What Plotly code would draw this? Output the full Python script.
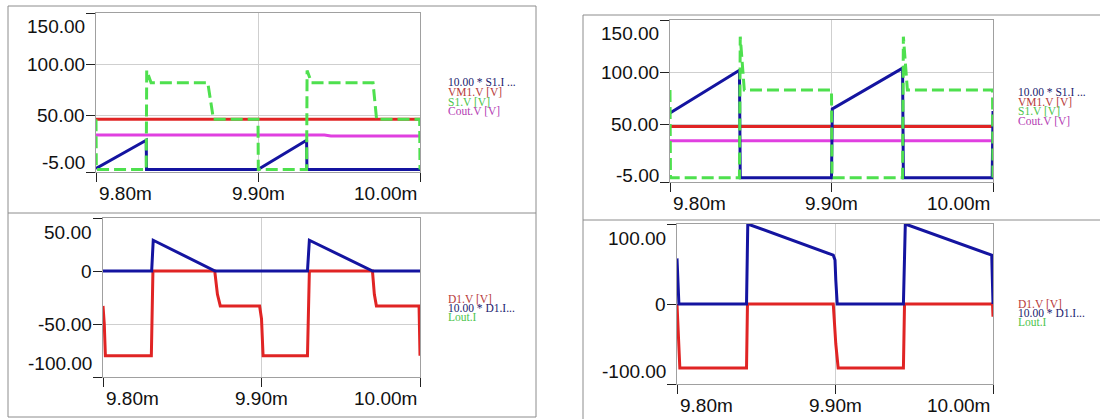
import plotly.graph_objects as go

W, H = 1100, 419

# ---------------- data (time in ms) ----------------
X_TICKS = [9.80, 9.90, 10.00]
X_TEXT = ["9.80m", "9.90m", "10.00m"]

# top-left panel
TL_Y_TICKS = [-5, 50, 100, 150]
TL_Y_TEXT = ["-5.00", "50.00", "100.00", "150.00"]
TL_S1I_T = [9.800, 9.831, 9.8312, 9.900, 9.930, 9.9302, 10.000]
TL_S1I_V = [-1.5, 26, -2.5, -2.5, 26, -2.5, -2.5]
TL_VM1_T = [9.800, 10.000]
TL_VM1_V = [46.5, 46.5]
TL_S1V_T = [9.800, 9.8002, 9.831, 9.8313, 9.834, 9.869, 9.8725, 9.900, 9.9002,
            9.930, 9.9303, 9.933, 9.971, 9.9732, 9.9998, 10.000]
TL_S1V_V = [46.5, -2.5, -2.5, 94, 82, 82, 46.5, 46.5, -2.5,
            -2.5, 94, 82, 82, 46.5, 46.5, -2.5]
TL_COUT_T = [9.800, 9.941, 9.945, 10.000]
TL_COUT_V = [31, 31, 30, 30]

# bottom-left panel
BL_Y_TICKS = [-100, -50, 0, 50]
BL_Y_TEXT = ["-100.00", "-50.00", "0", "50.00"]
BL_D1V_T = [9.8000, 9.8008, 9.8015, 9.8305, 9.8315, 9.8705, 9.8722, 9.8740, 9.8988,
            9.9000, 9.9010, 9.9290, 9.9302, 9.9700, 9.9712, 9.9725, 9.9994, 9.9998, 10.000]
BL_D1V_V = [-33, -50, -80, -80, 0, 0, -22, -33, -33,
            -45, -80, -80, 0, 0, -22, -33, -33, -55, -80]
BL_D1I_T = [9.800, 9.8307, 9.8317, 9.8707, 9.9290, 9.9302, 9.9701, 10.000]
BL_D1I_V = [0, 0, 29, 0, 0, 29, 0, 0]

# top-right panel
TR_Y_TICKS = [-5, 50, 100, 150]
TR_Y_TEXT = ["-5.00", "50.00", "100.00", "150.00"]
TR_S1I_T = [9.800, 9.843, 9.8435, 9.900, 9.9005, 9.944, 9.9445, 9.9995, 10.000]
TR_S1I_V = [61, 102, -1, -1, 65, 104, -1, -1, 63]
TR_VM1_T = [9.800, 10.000]
TR_VM1_V = [48, 48]
TR_S1V_T = [9.800, 9.8003, 9.843, 9.8435, 9.846, 9.900, 9.9003, 9.944, 9.9445,
            9.947, 9.9997, 10.000]
TR_S1V_V = [83, -1, -1, 134, 83, 83, -1, -1, 134, 83, 83, -1]
TR_COUT_T = [9.800, 10.000]
TR_COUT_V = [34.5, 34.5]

# bottom-right panel
BR_Y_TICKS = [-100, 0, 100]
BR_Y_TEXT = ["-100.00", "0", "100.00"]
BR_D1V_T = [9.8000, 9.8010, 9.8018, 9.8440, 9.8446, 9.8989, 9.9005, 9.9020,
            9.9433, 9.9440, 9.9997, 10.000]
BR_D1V_V = [0, -60, -80, -80, 0, 0, -50, -80, -80, 0, 0, -16]
BR_D1I_T = [9.8000, 9.8004, 9.8012, 9.8440, 9.8448, 9.8989, 9.9000, 9.9005, 9.9014,
            9.9433, 9.9445, 9.9992, 9.9997, 10.000]
BR_D1I_V = [57, 30, 0, 0, 100, 61, 55, 30, 0, 0, 100, 61, 30, 0]

LEG_TOP = ["10.00 * S1.I ...", "VM1.V [V]", "S1.V [V]", "Cout.V [V]"]
LEG_BOT = ["D1.V [V]", "10.00 * D1.I...", "Lout.I"]

# ---------------- styles ----------------
BLUE = "#1414a0"
RED = "#e02424"
GREEN = "#4ee04e"
MAGENTA = "#e040e0"
LEG_TOP_COL = ["#1a1a6e", "#b83a3a", "#4cc44c", "#b43cb4"]
LEG_BOT_COL = ["#b83a3a", "#1a1a6e", "#4cc44c"]


def fx(p):
    return p / W


def fy(p):
    return 1 - p / H


# pixel boxes: (left, right, top, bottom), and end-label nudges (top, bottom)
PANELS = {
    "tl": (96, 420, 13, 172),
    "bl": (103, 420, 218, 377),
    "tr": (670, 993, 20, 182),
    "br": (677, 993, 224, 384),
}
NUDGE = {"tl": (14, 9.5), "bl": (14, 14), "tr": (13, 7), "br": (14, 13)}

fig = go.Figure()


def add_line(t, v, color, ax, dash=None):
    fig.add_trace(go.Scatter(x=t, y=v, mode="lines", xaxis=ax[0], yaxis=ax[1],
                             line=dict(color=color, width=3, dash=dash),
                             showlegend=False, hoverinfo="skip"))


DASH = "12px,5px"
add_line(TL_VM1_T, TL_VM1_V, RED, ("x", "y"))
add_line(TL_COUT_T, TL_COUT_V, MAGENTA, ("x", "y"))
add_line(TL_S1I_T, TL_S1I_V, BLUE, ("x", "y"))
add_line(TL_S1V_T, TL_S1V_V, GREEN, ("x", "y"), DASH)

add_line(BL_D1V_T, BL_D1V_V, RED, ("x2", "y2"))
add_line(BL_D1I_T, BL_D1I_V, BLUE, ("x2", "y2"))

add_line(TR_VM1_T, TR_VM1_V, RED, ("x3", "y3"))
add_line(TR_COUT_T, TR_COUT_V, MAGENTA, ("x3", "y3"))
add_line(TR_S1I_T, TR_S1I_V, BLUE, ("x3", "y3"))
add_line(TR_S1V_T, TR_S1V_V, GREEN, ("x3", "y3"), DASH)

add_line(BR_D1V_T, BR_D1V_V, RED, ("x4", "y4"))
add_line(BR_D1I_T, BR_D1I_V, BLUE, ("x4", "y4"))

TICKLEN = 9
TICKFONT = dict(family="Liberation Sans, Arial, sans-serif", size=19, color="#111")
annotations = []


def setup(key, xname, yname, yticks, ytext, yrange):
    l, r, t, b = PANELS[key]
    ntop, nbot = NUDGE[key]
    common = dict(showline=True, mirror=True, linecolor="#a0a0a0", linewidth=1,
                  showgrid=True, gridcolor="#cfcfcf", gridwidth=1, zeroline=False,
                  ticks="outside", ticklen=TICKLEN, tickcolor="#222", tickwidth=1,
                  showticklabels=False)
    fig.layout["xaxis" + xname[1:]] = dict(common, domain=[fx(l), fx(r)],
                                           range=[X_TICKS[0], X_TICKS[-1]],
                                           tickvals=X_TICKS, anchor=yname)
    fig.layout["yaxis" + yname[1:]] = dict(common, domain=[fy(b), fy(t)],
                                           range=yrange, tickvals=yticks, anchor=xname)
    # y tick labels (end labels nudged inward like the original software)
    for i, (v, s) in enumerate(zip(yticks, ytext)):
        shift = 0
        if i == 0:
            shift = nbot
        elif i == len(yticks) - 1:
            shift = -ntop
        annotations.append(dict(xref="paper", yref=yname, x=fx(l - TICKLEN - 1), y=v,
                                text=s, showarrow=False, xanchor="right", yanchor="middle",
                                yshift=shift, borderpad=0, font=TICKFONT))
    for i, (v, s) in enumerate(zip(X_TICKS, X_TEXT)):
        anchor, shift = "center", 0
        if i == 0:
            anchor, shift = "left", 2
        elif i == len(X_TICKS) - 1:
            anchor, shift = "right", -2
        annotations.append(dict(xref=xname, yref="paper", x=v, y=fy(b + TICKLEN + 1),
                                text=s, showarrow=False, xanchor=anchor, yanchor="top",
                                xshift=shift, borderpad=0, font=TICKFONT))


setup("tl", "x", "y", TL_Y_TICKS, TL_Y_TEXT, [-5, 150])
setup("bl", "x2", "y2", BL_Y_TICKS, BL_Y_TEXT, [-100, 50])
setup("tr", "x3", "y3", TR_Y_TICKS, TR_Y_TEXT, [-5, 150])
setup("br", "x4", "y4", BR_Y_TICKS, BR_Y_TEXT, [-100, 100])

LEGFONT = "Liberation Serif, Times New Roman, serif"


def legend(x, y0, dy, texts, cols):
    for i, (s, c) in enumerate(zip(texts, cols)):
        annotations.append(dict(xref="paper", yref="paper", x=fx(x), y=fy(y0 + i * dy),
                                text=s, showarrow=False, xanchor="left", yanchor="middle",
                                borderpad=0,
                                font=dict(family=LEGFONT, size=11.5, color=c)))


legend(447, 82, 9.8, LEG_TOP, LEG_TOP_COL)
legend(447, 299, 9.2, LEG_BOT, LEG_BOT_COL)
legend(1017, 92, 9.6, LEG_TOP, LEG_TOP_COL)
legend(1017, 304, 9.2, LEG_BOT, LEG_BOT_COL)

FRAME = dict(color="#8c8c8c", width=1)


def seg(x0, y0, x1, y1):
    return dict(type="line", xref="paper", yref="paper", x0=fx(x0), y0=fy(y0),
                x1=fx(x1), y1=fy(y1), line=FRAME, layer="below")


shapes = [
    dict(type="rect", xref="paper", yref="paper", x0=fx(8), y0=fy(417), x1=fx(536),
         y1=fy(6), line=FRAME, layer="below"),
    seg(8, 213, 536, 213),
    seg(583, 15, 583, 419),
    seg(583, 15, 1100, 15),
    seg(583, 220, 1100, 220),
]

fig.update_layout(width=W, height=H, margin=dict(l=0, r=0, t=0, b=0),
                  paper_bgcolor="white", plot_bgcolor="white",
                  annotations=annotations, shapes=shapes, showlegend=False)

fig.write_html("out.html", config={"displayModeBar": False},
               post_script="document.body.style.margin='0';document.body.style.overflow='hidden';")
